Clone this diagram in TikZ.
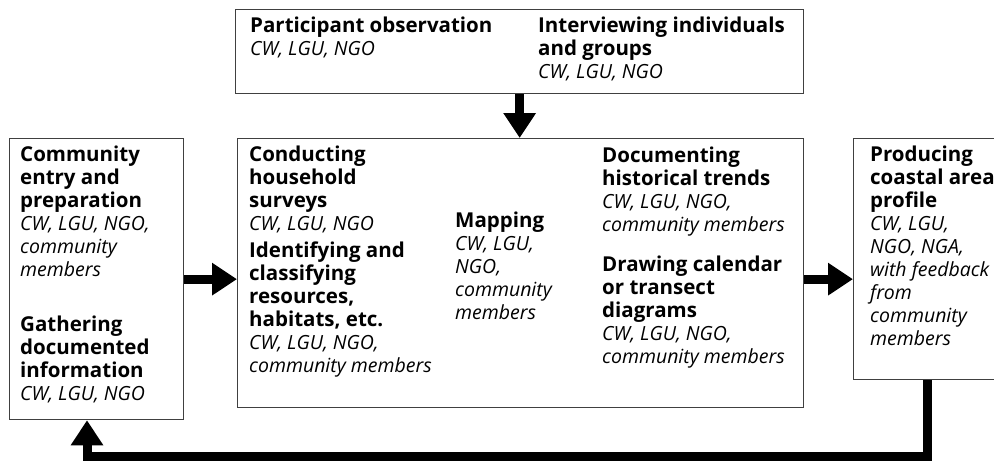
\documentclass[tikz,border=0pt]{standalone}
\usepackage{fontspec}
\setmainfont{Open Sans}
\usetikzlibrary{arrows.meta, positioning}

\tikzset{
  stage/.style={draw=black!75, line width=1.3pt, anchor=north west, inner sep=0pt},
  task/.style={anchor=north west, align=left, inner sep=0pt,
    font=\fontsize{20.5}{23}\selectfont\bfseries, execute at begin node=\strut},
  flow/.style={line width=9pt, -{Triangle[length=25pt, width=31pt]}},
}
\newcommand{\actors}[1]{{\fontsize{19.5}{23}\selectfont\mdseries\itshape #1}}

\begin{document}
\begin{tikzpicture}[x=1pt, y=-1pt]
        \useasboundingbox (0,0) rectangle (994,463);
        \clip (0,0) rectangle (994,463);

        % Draw boxes
        \node[stage, minimum width=568pt, minimum height=84pt] (topbox) at (235,9) {};
        \node[stage, minimum width=174pt, minimum height=281pt] (leftbox) at (9,138) {};
        \node[stage, minimum width=566pt, minimum height=269pt] (midbox) at (237,138) {};
        \node[stage, minimum width=148pt, minimum height=241pt] (rightbox) at (853,138) {};

        % Field methods
        \node[task] (obs) at (250,17) {Participant observation\\ \actors{CW, LGU, NGO}};
        \node[task] (intv) at (538,17) {Interviewing individuals\\ and groups\\ \actors{CW, LGU, NGO}};

        % Preparation
        \node[task] (entry) at (20,146) {Community\\ entry and\\ preparation\\
          \actors{CW, LGU, NGO,}\\ \actors{community}\\ \actors{members}};
        \node[task] (gather) at (20,316) {Gathering\\ documented\\ information\\ \actors{CW, LGU, NGO}};

        % Assessment
        \node[task] (survey) at (249,146) {Conducting\\ household\\ surveys\\ \actors{CW, LGU, NGO}};
        \node[task] (ident) at (249,242) {Identifying and\\ classifying\\ resources,\\ habitats, etc.\\
          \actors{CW, LGU, NGO,}\\ \actors{community members}};
        \node[task] (mapping) at (455,212) {Mapping\\ \actors{CW, LGU,}\\ \actors{NGO,}\\
          \actors{community}\\ \actors{members}};
        \node[task] (history) at (602,147) {Documenting\\ historical trends\\
          \actors{CW, LGU, NGO,}\\ \actors{community members}};
        \node[task] (calendar) at (602,256) {Drawing calendar\\ or transect\\ diagrams\\
          \actors{CW, LGU, NGO,}\\ \actors{community members}};

        % Profile
        \node[task] (profile) at (870,146) {Producing\\ coastal area\\ profile\\ \actors{CW, LGU,}\\
          \actors{NGO, NGA,}\\ \actors{with feedback}\\ \actors{from}\\ \actors{community}\\ \actors{members}};

        % Draw arrows
        \coordinate (back) at (87,456);
        \draw[flow] (topbox.south) -- (topbox.south |- midbox.north);
        \draw[flow] (leftbox.east) -- (leftbox.east -| midbox.west);
        \draw[flow] (midbox.east |- leftbox.east) -- (rightbox.west |- leftbox.east);
        \draw[flow] (rightbox.south) |- (back) -- (back |- leftbox.south);
    \end{tikzpicture}
\end{document}
